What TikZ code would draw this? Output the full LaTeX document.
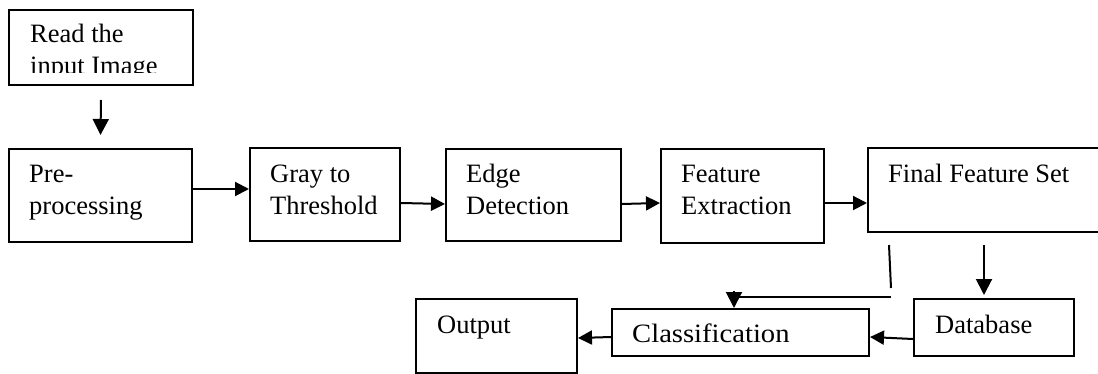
\documentclass[tikz,border=0pt]{standalone}
\usepackage{fontspec}
\usepackage{graphicx}
\setmainfont{Liberation Serif}
\usetikzlibrary{arrows.meta}
\newcommand\mytwo[2]{\begin{tabular}[t]{@{}l@{}}#1\\#2\end{tabular}}
\begin{document}
\begin{tikzpicture}[x=1pt,y=-1pt,
  box/.style={draw, line width=2pt, inner sep=0pt, anchor=north west},
  txt/.style={inner sep=0pt, anchor=base west, font=\fontsize{26.5}{32}\selectfont},
  arr/.style={line width=2pt, -{Triangle[length=14pt,width=14pt]}},
  darr/.style={line width=2pt, -{Triangle[length=16pt,width=16pt]}},
  ln/.style={line width=2pt}]
\clip (0,0) rectangle (1098,374);
% boxes
\node[box, minimum width=184pt, minimum height=75pt] (read) at (8,9) {};
\node[box, minimum width=183pt, minimum height=93pt] (pre) at (8,148) {};
\node[box, minimum width=150pt, minimum height=93pt] (gray) at (249,147) {};
\node[box, minimum width=175pt, minimum height=92pt] (edge) at (445,148) {};
\node[box, minimum width=163pt, minimum height=94pt] (feat) at (660,148) {};
\node[box, minimum width=250pt, minimum height=84pt] (final) at (867,147) {};
\node[box, minimum width=160pt, minimum height=57pt] (db) at (913,298) {};
\node[box, minimum width=257pt, minimum height=47pt] (cls) at (611,308) {};
\node[box, minimum width=161pt, minimum height=74pt] (out) at (415,298) {};
% texts
\begin{scope}
\clip (8,9) rectangle (192,73);
\node[txt] (readT) at (30,43) {\mytwo{Read the}{input Image}};
\end{scope}
\node[txt] (preT) at (29,183) {\mytwo{Pre-}{processing}};
\node[txt] (grayT) at (270,183) {\mytwo{Gray to}{Threshold}};
\node[txt] (edgeT) at (466,183) {\mytwo{Edge}{Detection}};
\node[txt] (featT) at (681,183) {\mytwo{Feature}{Extraction}};
\node[txt] (finalT) at (888,183) {Final Feature Set};
\node[txt] (dbT) at (935,333) {Database};
\node[txt] (clsT) at (632,342) {\scalebox{1.08}[1]{Classification}};
\node[txt] (outT) at (437,333) {Output};
% connectors
\draw[darr] ([yshift=-14pt]read.south) -- ([yshift=13pt]pre.north);
\draw[arr] ([yshift=6.5pt]pre.east) -- ([yshift=5.5pt]gray.west);
\draw[arr] ([yshift=-8.5pt]gray.east) -- ([yshift=-9pt]edge.west);
\draw[arr] ([yshift=-9pt]edge.east) -- ([yshift=-7pt]feat.west);
\draw[arr] ([yshift=-7pt]feat.east) -- ([yshift=-13pt]final.west);
\coordinate (fd) at ([xshift=-10pt]db.north |- final.south);
\draw[darr] ([yshift=-12pt]fd) -- ([xshift=-10pt,yshift=3pt]db.north);
\draw[ln] ([xshift=22pt,yshift=-12pt]final.south west) -- ++(2,43);
\draw[ln] ([xshift=-6.5pt,yshift=11pt]cls.north) -- ++(157,0);
\draw[darr] ([xshift=-6.5pt,yshift=17pt]cls.north) -- ([xshift=-6.5pt]cls.north);
\draw[arr] ([yshift=-11.5pt]db.west) -- ([yshift=-4.5pt]cls.east);
\draw[arr] ([yshift=-4.5pt]cls.west) -- ([yshift=-2pt]out.east);
\end{tikzpicture}
\end{document}
